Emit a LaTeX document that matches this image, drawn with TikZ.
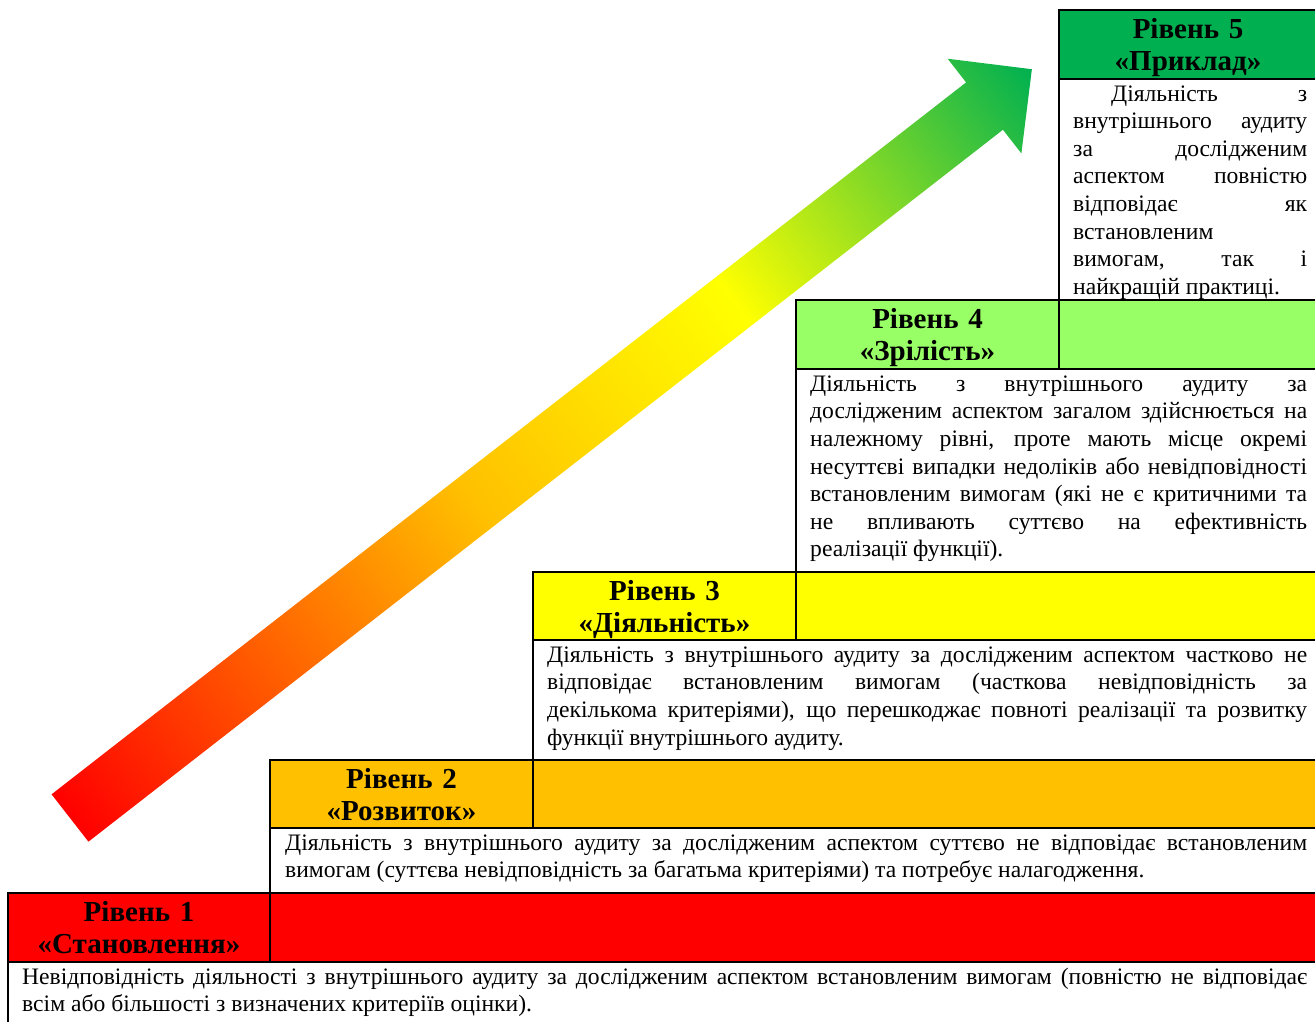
\documentclass[tikz,border=0pt]{standalone}
\usepackage{fontspec}
\setmainfont{Liberation Serif}
\definecolor{lvlone}{HTML}{FF0000}
\definecolor{lvltwo}{HTML}{FFC000}
\definecolor{lvlthree}{HTML}{FFFF00}
\definecolor{lvlfour}{HTML}{99FF66}
\definecolor{lvlfive}{HTML}{00B050}
\pgfdeclarehorizontalshading{stairarrow}{100bp}{color(0bp)=(lvlone); color(25bp)=(lvlone);
  color(46bp)=(lvltwo); color(59.5bp)=(lvlthree); color(75bp)=(lvlfive); color(100bp)=(lvlfive)}
\newcommand\lvlheadfont{\fontsize{29}{32.2}\selectfont\bfseries}
\newcommand\lvltextfont{\fontsize{23.6}{27.6}\selectfont\spaceskip=.25em plus .3em minus .12em
  \tolerance=10000 \hbadness=10000 \hyphenpenalty=10000 }
\tolerance=10000
\hbadness=10000

\begin{document}
\begin{tikzpicture}[x=1pt, y=-1pt,
                lvlhead/.style={anchor=north, inner sep=0pt, text width=250pt, align=center, font=\lvlheadfont},
                lvltext/.style={anchor=north west, inner sep=0pt, align=justify, font=\lvltextfont},
                grid/.style={line width=2.6pt, line cap=rect}]
                \useasboundingbox (0,0) rectangle (1315,1022);
                \begin{scope}[transform canvas={shift={(70,818)}, rotate=37.9}]
                    \shade[shading=stairarrow] (0,-30) -- (1159,-30) -- (1159,-60) -- (1219,0)
                        -- (1159,60) -- (1159,30) -- (0,30) -- cycle;
                \end{scope}
                \fill[lvlfive] (1059,10) rectangle (1330,79);
                \fill[lvlfour] (796,300) rectangle (1330,369);
                \fill[lvlthree] (533,572) rectangle (1330,640);
                \fill[lvltwo] (270,760) rectangle (1330,828);
                \fill[lvlone] (8,893) rectangle (1330,962);
                \foreach \x/\t/\m/\b in {1059/10/79/369, 796/300/369/640, 533/572/640/828, 270/760/828/962, 8/893/962/1040}
                    \draw[grid] (\x,\t) -- (1330,\t) (\x,\m) -- (1330,\m) (\x,\t) -- (\x,\b);
                \node[lvlhead] (H5) at (1188,10) {\rule{0pt}{28pt}Рівень 5\\«Приклад»};
                \node[lvlhead] (H4) at (927.5,300) {\rule{0pt}{28pt}Рівень 4\\«Зрілість»};
                \node[lvlhead] (H3) at (664.5,572) {\rule{0pt}{28pt}Рівень 3\\«Діяльність»};
                \node[lvlhead] (H2) at (401.5,760) {\rule{0pt}{28pt}Рівень 2\\«Розвиток»};
                \node[lvlhead] (H1) at (139,893) {\rule{0pt}{28pt}Рівень 1\\«Становлення»};
                \node[lvltext, text width=234pt] (T5) at (1073,79) {\rule{0pt}{22pt}\hspace*{38pt}Діяльність з\linebreak
                    внутрішнього аудиту\linebreak за дослідженим\linebreak аспектом повністю\linebreak
                    відповідає як\linebreak встановленим\linebreak вимогам, так і\linebreak найкращій практиці.};
                \node[lvltext, text width=497pt] (T4) at (810,369) {\rule{0pt}{22pt}Діяльність з внутрішнього аудиту за\linebreak
                    дослідженим аспектом загалом здійснюється на\linebreak
                    належному рівні, проте мають місце окремі\linebreak
                    несуттєві випадки недоліків або невідповідності\linebreak
                    встановленим вимогам (які не є критичними та\linebreak
                    не впливають суттєво на ефективність\linebreak
                    реалізації функції).};
                \node[lvltext, text width=760pt] (T3) at (547,640) {\rule{0pt}{22pt}Діяльність з внутрішнього аудиту за дослідженим аспектом частково не\linebreak
                    відповідає встановленим вимогам (часткова невідповідність за\linebreak
                    декількома критеріями), що перешкоджає повноті реалізації та розвитку\linebreak
                    функції внутрішнього аудиту.};
                \node[lvltext, text width=1022pt] (T2) at (285,828) {\rule{0pt}{22pt}Діяльність з внутрішнього аудиту за дослідженим аспектом суттєво не відповідає встановленим\linebreak
                    вимогам (суттєва невідповідність за багатьма критеріями) та потребує налагодження.};
                \node[lvltext, text width=1285pt] (T1) at (22,962) {\rule{0pt}{22pt}Невідповідність діяльності з внутрішнього аудиту за дослідженим аспектом встановленим вимогам (повністю не відповідає\linebreak
                    всім або більшості з визначених критеріїв оцінки).};
            \end{tikzpicture}
\end{document}
